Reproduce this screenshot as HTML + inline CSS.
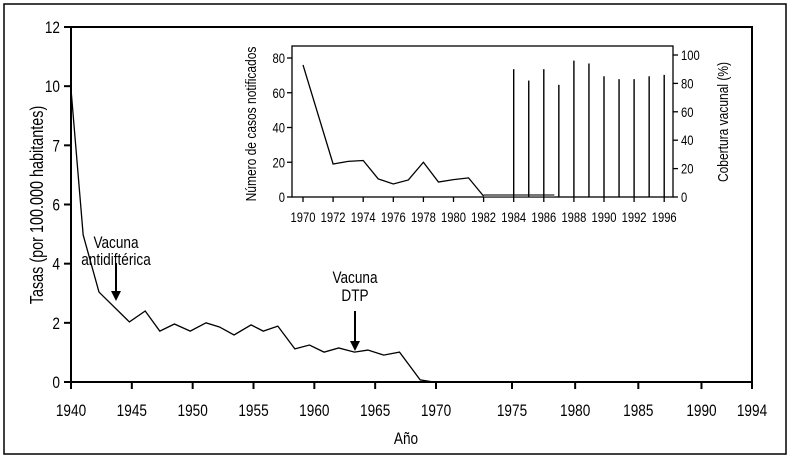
<!DOCTYPE html>
<html><head><meta charset="utf-8"><style>
html,body{margin:0;padding:0;background:#fff}
svg{display:block;font-family:"Liberation Sans Narrow","Liberation Sans",sans-serif}
</style></head><body>
<svg width="796" height="463" viewBox="0 0 796 463">
<rect x="4" y="4" width="782" height="450" fill="none" stroke="#000" stroke-width="1.5"/>
<g id="main"></g>
<g id="inset"></g>
</svg>
<script>
const mainYears=[1940,1941,1942.3,1944.8,1946.1,1947.3,1948.5,1949.8,1951.1,1952.2,1953.4,1954.8,1955.8,1957.0,1958.4,1959.6,1960.8,1962.0,1963.3,1964.4,1965.7,1967.0,1968.7,1969.8];
const mainRates=[9.9,4.97,3.04,2.03,2.4,1.72,1.96,1.72,2.0,1.86,1.59,1.93,1.72,1.89,1.12,1.25,1.01,1.15,1.01,1.08,0.91,1.01,0.07,0];
const mainXTicks=[1940,1945,1950,1955,1960,1965,1970,1975,1980,1985,1990,1994];
const mainYTicks=[0,2,4,6,8,10,12];
const mainYLabels=["0","2","4","6","7","10","12"];
const insetYears=[1970,1972,1973,1974,1975,1976,1977,1978,1979,1980,1981,1982];
const insetCases=[76,19,20.5,21,10.4,7.5,9.8,20,8.6,10,11,0.5];
const barYears=[1984,1985,1986,1987,1988,1989,1990,1991,1992,1993,1994];
const barCoverage=[90,82,90,79,96,94,85,83,83,85,86];
const insetXTickLabels=["1970","1972","1974","1976","1978","1980","1982","1984","1986","1988","1990","1992","1996"];
const insetLeftTicks=[0,20,40,60,80];
const insetRightTicks=[0,20,40,60,80,100];

const NS="http://www.w3.org/2000/svg";
function mk(p,t,a,txt){const e=document.createElementNS(NS,t);for(const k in a)e.setAttribute(k,a[k]);if(txt!==undefined)e.textContent=txt;p.appendChild(e);return e;}
const main=document.getElementById('main'),inset=document.getElementById('inset');

const mx=y=>y<=1970?71+(y-1940)*(365/30):(y<=1975?436+(y-1970)*15.2:512+(y-1975)*(240/19));
const my=v=>382-v*(355/12);

let e;
e=mk(main,'path',{d:`M71,27H752V382H71Z`,fill:'none',stroke:'#000','stroke-width':2});


mainYTicks.forEach((t,i)=>{
  e=mk(main,'line',{x1:64,x2:71,y1:my(t),y2:my(t),stroke:'#000','stroke-width':2});
  
  
  e=mk(main,'text',{x:60,y:my(t)+6,'text-anchor':'end','font-size':17},mainYLabels[i]);
  
  
});
mainXTicks.forEach(t=>{
  e=mk(main,'line',{x1:mx(t),x2:mx(t),y1:382,y2:389,stroke:'#000','stroke-width':2});
  
  
  e=mk(main,'text',{x:mx(t),y:416,'text-anchor':'middle','font-size':17},String(t));
  
  
});
e=mk(main,'text',{x:406,y:444,'text-anchor':'middle','font-size':17},'Año');


e=mk(main,'text',{x:0,y:0,'text-anchor':'middle','font-size':18,transform:'translate(43,205) rotate(-90)'},'Tasas (por 100.000 habitantes)');


e=mk(main,'polyline',{points:mainYears.map((y,i)=>mx(y)+','+my(mainRates[i])).join(' '),fill:'none',stroke:'#000','stroke-width':1.3});


function arrow(x,y1,y2,name){
  e=mk(main,'line',{x1:x,x2:x,y1:y1,y2:y2-8,stroke:'#000','stroke-width':2});
  
  
  mk(main,'path',{d:`M${x-5},${y2-10}L${x+5},${y2-10}L${x},${y2}Z`,fill:'#000'});
}
e=mk(main,'text',{x:116,y:248,'text-anchor':'middle','font-size':17},'Vacuna');


mk(main,'text',{x:116,y:265,'text-anchor':'middle','font-size':17},'antidiftérica');
arrow(116,263,301,'arrow-antidifterica');
e=mk(main,'text',{x:355,y:283,'text-anchor':'middle','font-size':17},'Vacuna');


mk(main,'text',{x:355,y:301,'text-anchor':'middle','font-size':17},'DTP');
arrow(355,311,351,'arrow-dtp');

const ix=y=>303+(y-1970)*15.05;
const iyL=v=>197-v*(139/80);
const iyR=v=>197-v*1.42;
e=mk(inset,'rect',{x:292,y:46,width:381,height:151,fill:'#fff',stroke:'#000','stroke-width':1.3});


insetLeftTicks.forEach(t=>{
  mk(inset,'line',{x1:287,x2:292,y1:iyL(t),y2:iyL(t),stroke:'#000','stroke-width':1.3});
  e=mk(inset,'text',{x:285,y:iyL(t)+5,'text-anchor':'end','font-size':14},String(t));
  
  
});
insetRightTicks.forEach(t=>{
  mk(inset,'line',{x1:673,x2:678,y1:iyR(t),y2:iyR(t),stroke:'#000','stroke-width':1.3});
  e=mk(inset,'text',{x:681,y:iyR(t)+5,'font-size':14},String(t));
  
  
});
insetXTickLabels.forEach((t,i)=>{
  const x=ix(1970+2*i);
  mk(inset,'line',{x1:x,x2:x,y1:197,y2:202,stroke:'#000','stroke-width':1.3});
  e=mk(inset,'text',{x:x,y:222,'text-anchor':'middle','font-size':14},t);
  
  
});
e=mk(inset,'text',{x:0,y:0,'text-anchor':'middle','font-size':15,transform:'translate(256,124) rotate(-90)'},'Número de casos notificados');


e=mk(inset,'text',{x:0,y:0,'text-anchor':'middle','font-size':15,transform:'translate(728,122) rotate(-90)'},'Cobertura vacunal (%)');


e=mk(inset,'rect',{x:ix(1982),y:194,width:ix(1986.7)-ix(1982),height:3,fill:'#777'});


e=mk(inset,'polyline',{points:insetYears.map((y,i)=>ix(y)+','+iyL(insetCases[i])).join(' '),fill:'none',stroke:'#000','stroke-width':1.3});


barYears.forEach((y,i)=>{
  e=mk(inset,'line',{x1:ix(y),x2:ix(y),y1:197,y2:iyR(barCoverage[i]),stroke:'#000','stroke-width':1.4});
  
  
});
document.querySelectorAll('svg text').forEach(t=>{
  const l=t.getComputedTextLength();
  if(l>0){t.setAttribute('textLength',(l*0.8).toFixed(1));t.setAttribute('lengthAdjust','spacingAndGlyphs');}
});
</script>
</body></html>
